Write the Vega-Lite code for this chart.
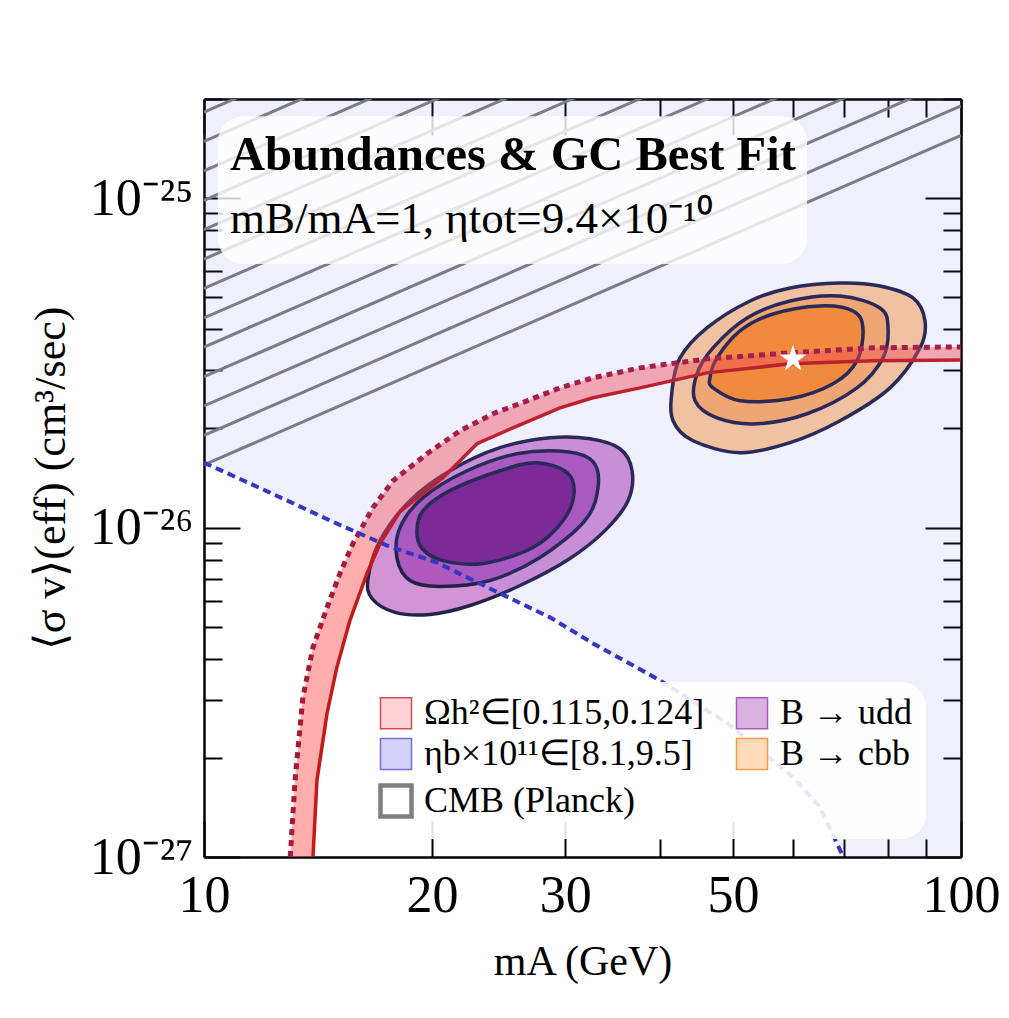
{
  "$schema": "https://vega.github.io/schema/vega-lite/v6.json",
  "width": 757,
  "height": 758,
  "autosize": {"type": "none"},
  "padding": {"left": 204, "top": 99, "right": 48, "bottom": 161},
  "background": "white",
  "config": {"view": {"stroke": null}, "font": "Liberation Serif"},
  "datasets": {
    "contours": [
      {"c":"udd3","i":0,"x":16.47,"y":7.01e-27},{"c":"udd3","i":1,"x":17.08,"y":9.13e-27},{"c":"udd3","i":2,"x":18.71,"y":1.207e-26},{"c":"udd3","i":3,"x":21.13,"y":1.488e-26},{"c":"udd3","i":4,"x":24.6,"y":1.748e-26},{"c":"udd3","i":5,"x":28.65,"y":1.874e-26},{"c":"udd3","i":6,"x":32.35,"y":1.861e-26},{"c":"udd3","i":7,"x":35.44,"y":1.735e-26},{"c":"udd3","i":8,"x":36.77,"y":1.488e-26},{"c":"udd3","i":9,"x":36.32,"y":1.207e-26},{"c":"udd3","i":10,"x":33.86,"y":9.79e-27},{"c":"udd3","i":11,"x":30.44,"y":8.06e-27},{"c":"udd3","i":12,"x":26.15,"y":6.67e-27},{"c":"udd3","i":13,"x":22.46,"y":5.8e-27},{"c":"udd3","i":14,"x":19.89,"y":5.45e-27},{"c":"udd3","i":15,"x":17.88,"y":5.53e-27},{"c":"udd3","i":16,"x":16.67,"y":6.09e-27},
      {"c":"udd2","i":0,"x":17.99,"y":8.06e-27},{"c":"udd2","i":1,"x":18.15,"y":1.0e-26},{"c":"udd2","i":2,"x":19.47,"y":1.233e-26},{"c":"udd2","i":3,"x":22.26,"y":1.488e-26},{"c":"udd2","i":4,"x":25.91,"y":1.676e-26},{"c":"udd2","i":5,"x":30.17,"y":1.7e-26},{"c":"udd2","i":6,"x":32.65,"y":1.585e-26},{"c":"udd2","i":7,"x":33.15,"y":1.322e-26},{"c":"udd2","i":8,"x":31.86,"y":1.05e-26},{"c":"udd2","i":9,"x":27.79,"y":8.11e-27},{"c":"udd2","i":10,"x":23.87,"y":6.91e-27},{"c":"udd2","i":11,"x":20.5,"y":6.63e-27},{"c":"udd2","i":12,"x":18.71,"y":6.91e-27},
      {"c":"udd1","i":0,"x":19.11,"y":9.79e-27},{"c":"udd1","i":1,"x":19.47,"y":1.126e-26},{"c":"udd1","i":2,"x":21.13,"y":1.295e-26},{"c":"udd1","i":3,"x":24.6,"y":1.488e-26},{"c":"udd1","i":4,"x":27.54,"y":1.574e-26},{"c":"udd1","i":5,"x":30.17,"y":1.468e-26},{"c":"udd1","i":6,"x":30.82,"y":1.268e-26},{"c":"udd1","i":7,"x":29.81,"y":1.05e-26},{"c":"udd1","i":8,"x":27.2,"y":8.7e-27},{"c":"udd1","i":9,"x":23.37,"y":7.78e-27},{"c":"udd1","i":10,"x":20.69,"y":7.94e-27},{"c":"udd1","i":11,"x":19.41,"y":8.64e-27},
      {"c":"cbb3","i":0,"x":41.52,"y":2.601e-26},{"c":"cbb3","i":1,"x":42.54,"y":3.275e-26},{"c":"cbb3","i":2,"x":46.17,"y":4.037e-26},{"c":"cbb3","i":3,"x":52.64,"y":4.874e-26},{"c":"cbb3","i":4,"x":59.45,"y":5.338e-26},{"c":"cbb3","i":5,"x":69.22,"y":5.527e-26},{"c":"cbb3","i":6,"x":78.16,"y":5.412e-26},{"c":"cbb3","i":7,"x":86.42,"y":4.977e-26},{"c":"cbb3","i":8,"x":89.63,"y":4.239e-26},{"c":"cbb3","i":9,"x":88.28,"y":3.512e-26},{"c":"cbb3","i":10,"x":80.58,"y":2.656e-26},{"c":"cbb3","i":11,"x":69.22,"y":2.11e-26},{"c":"cbb3","i":12,"x":59.45,"y":1.81e-26},{"c":"cbb3","i":13,"x":51.06,"y":1.688e-26},{"c":"cbb3","i":14,"x":44.26,"y":1.835e-26},{"c":"cbb3","i":15,"x":41.65,"y":2.11e-26},
      {"c":"cbb2","i":0,"x":44.8,"y":2.929e-26},{"c":"cbb2","i":1,"x":47.03,"y":3.512e-26},{"c":"cbb2","i":2,"x":52.16,"y":4.329e-26},{"c":"cbb2","i":3,"x":59.45,"y":4.874e-26},{"c":"cbb2","i":4,"x":69.22,"y":5.047e-26},{"c":"cbb2","i":5,"x":78.16,"y":4.642e-26},{"c":"cbb2","i":6,"x":80.09,"y":4.037e-26},{"c":"cbb2","i":7,"x":78.88,"y":3.275e-26},{"c":"cbb2","i":8,"x":72.88,"y":2.656e-26},{"c":"cbb2","i":9,"x":62.61,"y":2.216e-26},{"c":"cbb2","i":10,"x":53.77,"y":2.066e-26},{"c":"cbb2","i":11,"x":47.61,"y":2.154e-26},{"c":"cbb2","i":12,"x":44.53,"y":2.426e-26},
      {"c":"cbb1","i":0,"x":46.6,"y":2.848e-26},{"c":"cbb1","i":1,"x":47.61,"y":3.275e-26},{"c":"cbb1","i":2,"x":51.06,"y":3.954e-26},{"c":"cbb1","i":3,"x":56.45,"y":4.45e-26},{"c":"cbb1","i":4,"x":65.1,"y":4.707e-26},{"c":"cbb1","i":5,"x":71.99,"y":4.546e-26},{"c":"cbb1","i":6,"x":74.21,"y":4.037e-26},{"c":"cbb1","i":7,"x":72.88,"y":3.207e-26},{"c":"cbb1","i":8,"x":67.76,"y":2.732e-26},{"c":"cbb1","i":9,"x":59.45,"y":2.46e-26},{"c":"cbb1","i":10,"x":51.06,"y":2.426e-26},{"c":"cbb1","i":11,"x":47.03,"y":2.656e-26}
    ],
    "band": [
      {"edge":"upper","i":0,"x":13.0,"y":1e-27},{"edge":"upper","i":1,"x":13.19,"y":1.711e-27},{"edge":"upper","i":2,"x":13.51,"y":3.054e-27},{"edge":"upper","i":3,"x":13.93,"y":4.329e-27},{"edge":"upper","i":4,"x":14.54,"y":5.722e-27},{"edge":"upper","i":5,"x":15.12,"y":7.255e-27},{"edge":"upper","i":6,"x":15.73,"y":8.944e-27},{"edge":"upper","i":7,"x":16.72,"y":1.15e-26},{"edge":"upper","i":8,"x":17.77,"y":1.388e-26},{"edge":"upper","i":9,"x":19.71,"y":1.676e-26},{"edge":"upper","i":10,"x":21.79,"y":1.967e-26},{"edge":"upper","i":11,"x":24.09,"y":2.216e-26},{"edge":"upper","i":12,"x":26.71,"y":2.426e-26},{"edge":"upper","i":13,"x":29.53,"y":2.656e-26},{"edge":"upper","i":14,"x":32.65,"y":2.848e-26},{"edge":"upper","i":15,"x":37.67,"y":3.054e-26},{"edge":"upper","i":16,"x":46.17,"y":3.252e-26},{"edge":"upper","i":17,"x":59.45,"y":3.391e-26},{"edge":"upper","i":18,"x":76.52,"y":3.512e-26},{"edge":"upper","i":19,"x":100,"y":3.536e-26},
      {"edge":"lower","i":20,"x":100,"y":3.229e-26},{"edge":"lower","i":21,"x":76.52,"y":3.207e-26},{"edge":"lower","i":22,"x":59.45,"y":3.141e-26},{"edge":"lower","i":23,"x":46.17,"y":2.949e-26},{"edge":"lower","i":24,"x":37.67,"y":2.656e-26},{"edge":"lower","i":25,"x":32.65,"y":2.477e-26},{"edge":"lower","i":26,"x":29.53,"y":2.31e-26},{"edge":"lower","i":27,"x":25.59,"y":2.009e-26},{"edge":"lower","i":28,"x":22.94,"y":1.797e-26},{"edge":"lower","i":29,"x":20.69,"y":1.418e-26},{"edge":"lower","i":30,"x":19.29,"y":1.25e-26},{"edge":"lower","i":31,"x":18.15,"y":1.118e-26},{"edge":"lower","i":32,"x":17.08,"y":8.944e-27},{"edge":"lower","i":33,"x":16.42,"y":7.255e-27},{"edge":"lower","i":34,"x":15.59,"y":5.227e-27},{"edge":"lower","i":35,"x":14.98,"y":3.765e-27},{"edge":"lower","i":36,"x":14.54,"y":2.732e-27},{"edge":"lower","i":37,"x":14.1,"y":1.711e-27},{"edge":"lower","i":38,"x":13.93,"y":1e-27}
    ],
    "eta": [
      {"s":"line","x":10,"y":1.574e-26},{"s":"line","x":12.22,"y":1.277e-26},{"s":"line","x":14.98,"y":1.028e-26},{"s":"line","x":17.45,"y":8.82e-27},{"s":"line","x":20.31,"y":7.83e-27},{"s":"line","x":24.6,"y":6.31e-27},{"s":"line","x":28.64,"y":5.34e-27},{"s":"line","x":32.65,"y":4.45e-27},{"s":"line","x":40.0,"y":3.44e-27},{"s":"line","x":49.1,"y":2.547e-27},{"s":"line","x":60.0,"y":1.747e-27},{"s":"line","x":65.1,"y":1.418e-27},{"s":"line","x":69.9,"y":1e-27},{"s":"fill","x":100,"y":1e-27}
    ],
    "cmb": [
      {"x":10,"y":1.55e-26,"x2":100,"y2":1.55e-25},{"x":10,"y":1.905e-26,"x2":100,"y2":1.905e-25},{"x":10,"y":2.34e-26,"x2":100,"y2":2.34e-25},{"x":10,"y":2.87e-26,"x2":100,"y2":2.87e-25},{"x":10,"y":3.53e-26,"x2":100,"y2":3.53e-25},{"x":10,"y":4.33e-26,"x2":100,"y2":4.33e-25},{"x":10,"y":5.32e-26,"x2":100,"y2":5.32e-25},{"x":10,"y":6.53e-26,"x2":100,"y2":6.53e-25},{"x":10,"y":8.02e-26,"x2":100,"y2":8.02e-25},{"x":10,"y":9.85e-26,"x2":100,"y2":9.85e-25},{"x":10,"y":1.21e-25,"x2":100,"y2":1.21e-24},{"x":10,"y":1.486e-25,"x2":100,"y2":1.486e-24},{"x":10,"y":1.825e-25,"x2":100,"y2":1.825e-24}
    ],
    "best": [{"x":60,"y":3.25e-26}],
    "box": [{"x":10.43,"x2":62.6,"y":6.31e-26,"y2":1.772e-25}],
    "notes": [
      {"k":"t1","x":10.82,"y":1.216e-25,"text":"Abundances & GC Best Fit"},
      {"k":"t2","x":10.82,"y":7.83e-26,"text":"mB/mA=1, ηtot=9.4×10⁻¹⁰"}
    ],
    "legendItems": [
      {"name":"Ωh²∈[0.115,0.124]"},{"name":"ηb×10¹¹∈[8.1,9.5]"},{"name":"CMB (Planck)"},{"name":"B → udd"},{"name":"B → cbb"}
    ]
  },
  "layer": [
    {
      "layer": [
        {
          "data": {"name": "contours"},
          "transform": [{"filter": "datum.c == 'udd3'"}],
          "mark": {"type": "line", "interpolate": "cardinal-closed", "fill": "#d394d5", "stroke": "#22224a", "strokeWidth": 3.5, "clip": true},
          "encoding": {
            "x": {"field": "x", "type": "quantitative", "scale": {"type": "log", "domain": [10, 100], "nice": false},
              "axis": {"orient": "bottom", "values": [10,20,30,40,50,60,70,80,90,100],
                "labelExpr": "indexof([10,20,30,50,100], datum.value) >= 0 ? format(datum.value, 'd') : ''",
                "labelFont": "Liberation Serif", "labelFontSize": 52, "labelColor": "#000", "labelPadding": 49,
                "labelFlush": false, "labelOverlap": false, "labelBound": false,
                "tickColor": "#000", "tickWidth": 2,
                "tickSize": {"condition": {"test": "indexof([10,20,30,50,100], datum.value) >= 0", "value": -36}, "value": -18},
                "domainColor": "#000", "domainWidth": 2.5, "grid": false,
                "title": "mA (GeV)", "titleFont": "Liberation Serif", "titleFontSize": 42, "titleFontWeight": "normal", "titleColor": "#000", "titlePadding": 2}},
            "y": {"field": "y", "type": "quantitative", "scale": {"type": "log", "domain": [1e-27, 2e-25], "nice": false},
              "axis": {"orient": "left", "values": [1e-27,2e-27,3e-27,4e-27,5e-27,6e-27,7e-27,8e-27,9e-27,1e-26,2e-26,3e-26,4e-26,5e-26,6e-26,7e-26,8e-26,9e-26,1e-25,2e-25],
                "labelExpr": "datum.value == 1e-27 ? '10⁻²⁷' : datum.value == 1e-26 ? '10⁻²⁶' : datum.value == 1e-25 ? '10⁻²⁵' : ''",
                "labelFont": "Liberation Serif", "labelFontSize": 52, "labelColor": "#000", "labelPadding": 47,
                "labelFlush": false, "labelOverlap": false, "labelBound": false,
                "tickColor": "#000", "tickWidth": 2,
                "tickSize": {"condition": {"test": "datum.value == 1e-27 || datum.value == 1e-26 || datum.value == 1e-25", "value": -36}, "value": -18},
                "domainColor": "#000", "domainWidth": 2.5, "grid": false,
                "title": "⟨σ v⟩(eff) (cm³/sec)", "titleFont": "Liberation Serif", "titleFontSize": 44, "titleFontWeight": "normal", "titleColor": "#000", "titlePadding": 16}},
            "order": {"field": "i", "type": "quantitative"}
          }
        },
        {
          "data": {"name": "contours"},
          "transform": [{"filter": "datum.c == 'udd2'"}],
          "mark": {"type": "line", "interpolate": "cardinal-closed", "fill": "#b059bd", "stroke": "#22224a", "strokeWidth": 3.5, "clip": true},
          "encoding": {
            "x": {"field": "x", "type": "quantitative", "scale": {"type": "log", "domain": [10, 100], "nice": false}},
            "y": {"field": "y", "type": "quantitative", "scale": {"type": "log", "domain": [1e-27, 2e-25], "nice": false}},
            "order": {"field": "i", "type": "quantitative"}
          }
        },
        {
          "data": {"name": "contours"},
          "transform": [{"filter": "datum.c == 'udd1'"}],
          "mark": {"type": "line", "interpolate": "cardinal-closed", "fill": "#7f2390", "stroke": "#22224a", "strokeWidth": 3.5, "clip": true},
          "encoding": {
            "x": {"field": "x", "type": "quantitative", "scale": {"type": "log", "domain": [10, 100], "nice": false}},
            "y": {"field": "y", "type": "quantitative", "scale": {"type": "log", "domain": [1e-27, 2e-25], "nice": false}},
            "order": {"field": "i", "type": "quantitative"}
          }
        },
        {
          "data": {"name": "contours"},
          "transform": [{"filter": "datum.c == 'cbb3'"}],
          "mark": {"type": "line", "interpolate": "cardinal-closed", "fill": "#ffcc99", "stroke": "#22224a", "strokeWidth": 3.5, "clip": true},
          "encoding": {
            "x": {"field": "x", "type": "quantitative", "scale": {"type": "log", "domain": [10, 100], "nice": false}},
            "y": {"field": "y", "type": "quantitative", "scale": {"type": "log", "domain": [1e-27, 2e-25], "nice": false}},
            "order": {"field": "i", "type": "quantitative"}
          }
        },
        {
          "data": {"name": "contours"},
          "transform": [{"filter": "datum.c == 'cbb2'"}],
          "mark": {"type": "line", "interpolate": "cardinal-closed", "fill": "#ffad66", "stroke": "#22224a", "strokeWidth": 3.5, "clip": true},
          "encoding": {
            "x": {"field": "x", "type": "quantitative", "scale": {"type": "log", "domain": [10, 100], "nice": false}},
            "y": {"field": "y", "type": "quantitative", "scale": {"type": "log", "domain": [1e-27, 2e-25], "nice": false}},
            "order": {"field": "i", "type": "quantitative"}
          }
        },
        {
          "data": {"name": "contours"},
          "transform": [{"filter": "datum.c == 'cbb1'"}],
          "mark": {"type": "line", "interpolate": "cardinal-closed", "fill": "#ff8e2c", "stroke": "#22224a", "strokeWidth": 3.5, "clip": true},
          "encoding": {
            "x": {"field": "x", "type": "quantitative", "scale": {"type": "log", "domain": [10, 100], "nice": false}},
            "y": {"field": "y", "type": "quantitative", "scale": {"type": "log", "domain": [1e-27, 2e-25], "nice": false}},
            "order": {"field": "i", "type": "quantitative"}
          }
        },
        {
          "data": {"name": "band"},
          "mark": {"type": "line", "interpolate": "linear-closed", "fill": "#ff4a4a", "fillOpacity": 0.45, "strokeWidth": 0, "clip": true},
          "encoding": {
            "x": {"field": "x", "type": "quantitative", "scale": {"type": "log", "domain": [10, 100], "nice": false}},
            "y": {"field": "y", "type": "quantitative", "scale": {"type": "log", "domain": [1e-27, 2e-25], "nice": false}},
            "order": {"field": "i", "type": "quantitative"}
          }
        },
        {
          "data": {"name": "band"},
          "transform": [{"filter": "datum.edge == 'lower'"}],
          "mark": {"type": "line", "stroke": "#c41a1a", "strokeWidth": 3.5, "clip": true},
          "encoding": {
            "x": {"field": "x", "type": "quantitative", "scale": {"type": "log", "domain": [10, 100], "nice": false}},
            "y": {"field": "y", "type": "quantitative", "scale": {"type": "log", "domain": [1e-27, 2e-25], "nice": false}},
            "order": {"field": "i", "type": "quantitative"}
          }
        },
        {
          "data": {"name": "band"},
          "transform": [{"filter": "datum.edge == 'upper'"}],
          "mark": {"type": "line", "stroke": "#a8183a", "strokeWidth": 5, "strokeDash": [6, 5], "strokeCap": "butt", "clip": true},
          "encoding": {
            "x": {"field": "x", "type": "quantitative", "scale": {"type": "log", "domain": [10, 100], "nice": false}},
            "y": {"field": "y", "type": "quantitative", "scale": {"type": "log", "domain": [1e-27, 2e-25], "nice": false}},
            "order": {"field": "i", "type": "quantitative"}
          }
        },
        {
          "data": {"name": "cmb"},
          "mark": {"type": "rule", "stroke": "#7e7e7e", "strokeWidth": 3, "clip": true},
          "encoding": {
            "x": {"field": "x", "type": "quantitative", "scale": {"type": "log", "domain": [10, 100], "nice": false}},
            "y": {"field": "y", "type": "quantitative", "scale": {"type": "log", "domain": [1e-27, 2e-25], "nice": false}},
            "x2": {"field": "x2"},
            "y2": {"field": "y2"}
          }
        },
        {
          "data": {"name": "eta"},
          "mark": {"type": "area", "fill": "#6969f0", "fillOpacity": 0.1, "clip": true},
          "encoding": {
            "x": {"field": "x", "type": "quantitative", "scale": {"type": "log", "domain": [10, 100], "nice": false}},
            "y": {"field": "y", "type": "quantitative", "scale": {"type": "log", "domain": [1e-27, 2e-25], "nice": false}},
            "y2": {"datum": 2e-25}
          }
        },
        {
          "data": {"name": "eta"},
          "transform": [{"filter": "datum.s == 'line'"}],
          "mark": {"type": "line", "stroke": "#3636c2", "strokeWidth": 4, "strokeDash": [8, 5], "strokeCap": "butt", "clip": true},
          "encoding": {
            "x": {"field": "x", "type": "quantitative", "scale": {"type": "log", "domain": [10, 100], "nice": false}},
            "y": {"field": "y", "type": "quantitative", "scale": {"type": "log", "domain": [1e-27, 2e-25], "nice": false}}
          }
        },
        {
          "data": {"name": "best"},
          "mark": {"type": "point", "shape": "M0,-1L0.2245,-0.309L0.9511,-0.309L0.3633,0.118L0.5878,0.809L0,0.382L-0.5878,0.809L-0.3633,0.118L-0.9511,-0.309L-0.2245,-0.309Z", "filled": true, "fill": "white", "opacity": 1, "size": 800, "strokeWidth": 0},
          "encoding": {
            "x": {"field": "x", "type": "quantitative", "scale": {"type": "log", "domain": [10, 100], "nice": false}},
            "y": {"field": "y", "type": "quantitative", "scale": {"type": "log", "domain": [1e-27, 2e-25], "nice": false}}
          }
        },
        {
          "data": {"name": "box"},
          "mark": {"type": "rect", "fill": "white", "fillOpacity": 0.8, "cornerRadius": 26},
          "encoding": {
            "x": {"field": "x", "type": "quantitative", "scale": {"type": "log", "domain": [10, 100], "nice": false}},
            "x2": {"field": "x2"},
            "y": {"field": "y", "type": "quantitative", "scale": {"type": "log", "domain": [1e-27, 2e-25], "nice": false}},
            "y2": {"field": "y2"}
          }
        },
        {
          "data": {"name": "notes"},
          "transform": [{"filter": "datum.k == 't1'"}],
          "mark": {"type": "text", "align": "left", "baseline": "alphabetic", "font": "Liberation Serif", "fontSize": 48.5, "fontWeight": "bold", "fill": "#000"},
          "encoding": {
            "x": {"field": "x", "type": "quantitative", "scale": {"type": "log", "domain": [10, 100], "nice": false}},
            "y": {"field": "y", "type": "quantitative", "scale": {"type": "log", "domain": [1e-27, 2e-25], "nice": false}},
            "text": {"field": "text"}
          }
        },
        {
          "data": {"name": "notes"},
          "transform": [{"filter": "datum.k == 't2'"}],
          "mark": {"type": "text", "align": "left", "baseline": "alphabetic", "font": "Liberation Serif", "fontSize": 45, "fill": "#000"},
          "encoding": {
            "x": {"field": "x", "type": "quantitative", "scale": {"type": "log", "domain": [10, 100], "nice": false}},
            "y": {"field": "y", "type": "quantitative", "scale": {"type": "log", "domain": [1e-27, 2e-25], "nice": false}},
            "text": {"field": "text"}
          }
        },
        {
          "data": {"name": "legendItems"},
          "transform": [{"filter": "false"}],
          "mark": {"type": "square", "filled": true, "opacity": 1},
          "encoding": {
            "fill": {"field": "name", "type": "nominal",
              "scale": {"domain": ["Ωh²∈[0.115,0.124]", "ηb×10¹¹∈[8.1,9.5]", "CMB (Planck)", "B → udd", "B → cbb"],
                        "range": ["#ffd2d8", "#d2d2fa", "#ffffff", "#dbb0e2", "#ffdabb"]},
              "legend": {"title": null, "orient": "none", "legendX": 161, "legendY": 583, "columns": 2,
                "symbolType": "square", "symbolSize": 961, "symbolStrokeWidth": 1.5, "symbolOpacity": 1,
                "labelFont": "Liberation Serif", "labelFontSize": 36, "labelColor": "#000", "labelLimit": 600, "labelOffset": 10,
                "rowPadding": 3, "columnPadding": 28, "padding": 13,
                "fillColor": "rgba(255,255,255,0.88)", "cornerRadius": 25,
                "encode": {"symbols": {"update": {"strokeWidth": {"signal": "datum.value === 'CMB (Planck)' ? 4.5 : 1.5"}}}}}},
            "stroke": {"field": "name", "type": "nominal",
              "scale": {"domain": ["Ωh²∈[0.115,0.124]", "ηb×10¹¹∈[8.1,9.5]", "CMB (Planck)", "B → udd", "B → cbb"],
                        "range": ["#d64a52", "#7070da", "#7f7f7f", "#ab5cbb", "#f59c4c"]}}
          }
        }
      ]
    },
    {
      "data": {"name": "best"},
      "transform": [{"filter": "false"}],
      "mark": {"type": "point"},
      "encoding": {
        "x": {"field": "x", "type": "quantitative", "scale": {"type": "log", "domain": [10, 100], "nice": false},
          "axis": {"orient": "top", "values": [10,20,30,40,50,60,70,80,90,100], "labels": false, "title": null,
            "tickColor": "#000", "tickWidth": 2,
            "tickSize": {"condition": {"test": "indexof([10,20,30,50,100], datum.value) >= 0", "value": -36}, "value": -18},
            "domainColor": "#000", "domainWidth": 2.5, "grid": false}},
        "y": {"field": "y", "type": "quantitative", "scale": {"type": "log", "domain": [1e-27, 2e-25], "nice": false},
          "axis": {"orient": "right", "values": [1e-27,2e-27,3e-27,4e-27,5e-27,6e-27,7e-27,8e-27,9e-27,1e-26,2e-26,3e-26,4e-26,5e-26,6e-26,7e-26,8e-26,9e-26,1e-25,2e-25], "labels": false, "title": null,
            "tickColor": "#000", "tickWidth": 2,
            "tickSize": {"condition": {"test": "datum.value == 1e-27 || datum.value == 1e-26 || datum.value == 1e-25", "value": -36}, "value": -18},
            "domainColor": "#000", "domainWidth": 2.5, "grid": false}}
      }
    }
  ],
  "resolve": {"axis": {"x": "independent", "y": "independent"}}
}
